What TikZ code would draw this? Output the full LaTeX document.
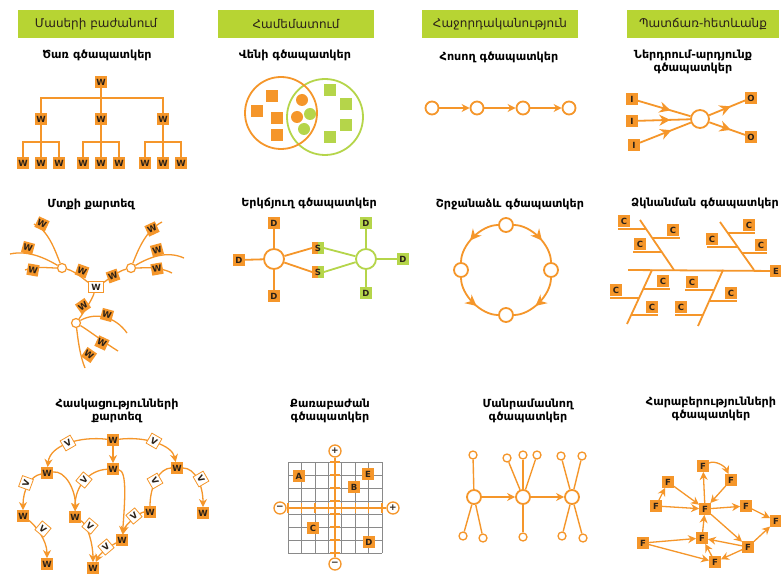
\documentclass[tikz,border=0pt]{standalone}
\usepackage{fontspec}
\setmainfont{DejaVu Sans}
\usetikzlibrary{arrows.meta,decorations.markings,calc}
\definecolor{org}{HTML}{F5962A}
\definecolor{grn}{HTML}{B7D433}
\definecolor{lgrn}{HTML}{B5D54A}
\definecolor{ink}{HTML}{2B2118}
\definecolor{gridc}{HTML}{8A8A8A}
\begin{document}
\begin{tikzpicture}[x=1pt,y=-1pt,
 hdr/.style={fill=grn, minimum width=156pt, minimum height=28pt, inner sep=0pt, text=ink, font=\fontsize{12}{13}\selectfont},
 sub/.style={font=\bfseries\fontsize{11.2}{12.8}\selectfont, align=center, inner sep=0pt},
 lb/.style={fill=org, text=ink, minimum size=11.5pt, inner sep=0pt, font=\bfseries\fontsize{8.5}{8.5}\selectfont},
 lbg/.style={lb, fill=lgrn},
 sbox/.style={lb, path picture={\fill[lgrn] (path picture bounding box.north) rectangle (path picture bounding box.south east);}},
 vb/.style={draw=org, fill=white, text=ink, minimum size=11.5pt, inner sep=0pt, line width=0.8pt, font=\bfseries\fontsize{8.5}{8.5}\selectfont},
 ol/.style={color=org, line width=1.8pt},
 tl/.style={color=org, line width=1.3pt},
 gl/.style={color=lgrn, line width=1.8pt},
 oc/.style={circle, draw=org, fill=white, line width=1.8pt, inner sep=0pt, minimum size=#1},
 oc/.default=13pt,
 dot/.style={circle, fill=#1, inner sep=0pt, minimum size=12pt},
 arr/.style={-{Stealth[length=8pt,width=8pt]}},
 midarr/.style={postaction={decorate,decoration={markings,mark=at position #1 with {\arrow{Stealth[length=11pt,width=11pt]}}}}},
]
\fill[white] (0,0) rectangle (781,585);
\useasboundingbox (0,0) rectangle (781,585);

% ---------- headers ----------
\node[hdr] (h1) at (96,24) {Մասերի բաժանում};
\node[hdr] (h2) at (296,24) {Համեմատում};
\node[hdr] (h3) at (500,24) {Հաջորդականություն};
\node[hdr, minimum width=152pt] (h4) at (703,24) {Պատճառ-հետևանք};

% ---------- subtitles ----------
\node[sub] (s1) at (97,55) {Ծառ գծապատկեր};
\node[sub] (s2) at (295,55) {Վենի գծապատկեր};
\node[sub] (s3) at (499,57) {Հոսող գծապատկեր};
\node[sub] (s4) at (693,62) {Ներդրում-արդյունք\\գծապատկեր};
\node[sub] (s5) at (91,204) {Մտքի քարտեզ};
\node[sub] (s6) at (309,203) {Երկճյուղ գծապատկեր};
\node[sub] (s7) at (510,204) {Շրջանաձև գծապատկեր};
\node[sub] (s8) at (705,203) {Ձկնանման գծապատկեր};
\node[sub] (s9) at (117,411) {Հասկացությունների\\քարտեզ};
\node[sub] (s10) at (330,411) {Քառաբաժան\\գծապատկեր};
\node[sub] (s11) at (528,411) {Մանրամասնող\\գծապատկեր};
\node[sub] (s12) at (711,409) {Հարաբերությունների\\գծապատկեր};

% ---------- tree ----------
\node[lb] (t0) at (101,82) {W};
\node[lb] (t1) at (41,119) {W};
\node[lb] (t2) at (101,119) {W};
\node[lb] (t3) at (163,119) {W};
\foreach \p/\x in {1/41,2/101,3/163}{
  \node[lb] (l\p a) at (\x-18,163) {W};
  \node[lb] (l\p b) at (\x,163) {W};
  \node[lb] (l\p c) at (\x+18,163) {W};
}
\coordinate (tb) at (101,98);
\draw[ol] (t0) -- (tb);
\draw[ol] (t1) |- (tb) -| (t3);
\draw[ol] (t2) -- (tb);
\foreach \p/\x in {1/41,2/101,3/163}{
  \coordinate (lb\p) at (\x,142);
  \draw[ol] (l\p a) |- (lb\p) -| (l\p c);
  \draw[ol] (t\p) -- (l\p b);
}

% ---------- venn ----------
\node[circle, draw=lgrn, line width=1.8pt, minimum size=76pt] (vg) at (325,117) {};
\node[circle, draw=org, line width=1.8pt, minimum size=72pt] (vo) at (281,113) {};
\node[lb, minimum size=12pt] (vs1) at (272,96) {};
\node[lb, minimum size=12pt] (vs2) at (257,111) {};
\node[lb, minimum size=12pt] (vs3) at (277,118) {};
\node[lb, minimum size=12pt] (vs4) at (277,135) {};
\node[dot=org] (vc1) at (302,100) {};
\node[dot=org] (vc2) at (297,117) {};
\node[dot=lgrn] (vc3) at (310,114) {};
\node[dot=lgrn] (vc4) at (304,129) {};
\node[lbg, minimum size=12pt] (vg1) at (330,90) {};
\node[lbg, minimum size=12pt] (vg2) at (346,104) {};
\node[lbg, minimum size=12pt] (vg3) at (346,125) {};
\node[lbg, minimum size=12pt] (vg4) at (330,137) {};

% ---------- flow ----------
\node[oc] (f1) at (432,108) {};
\node[oc] (f2) at (477,108) {};
\node[oc] (f3) at (523,108) {};
\node[oc] (f4) at (569,108) {};
\draw[ol,arr] (f1) -- (f2);
\draw[ol,arr] (f2) -- (f3);
\draw[ol,arr] (f3) -- (f4);

% ---------- input-output ----------
\node[lb] (i1) at (632,99) {I};
\node[lb] (i2) at (632,121) {I};
\node[lb] (i3) at (634,145) {I};
\node[oc=18pt] (ioc) at (700,119) {};
\node[lb] (o1) at (751,98) {O};
\node[lb] (o2) at (751,137) {O};
\draw[ol,midarr=0.62] (i1) -- (ioc);
\draw[ol,midarr=0.62] (i2) -- (ioc);
\draw[ol,midarr=0.62] (i3) -- (ioc);
\draw[ol,midarr=0.6] (ioc) -- (o1);
\draw[ol,midarr=0.6] (ioc) -- (o2);

% ---------- mind map ----------
\node[vb, minimum width=15pt] (mc) at (96,287) {W};
\node[oc=9pt, line width=1.2pt] (mL) at (62,268) {};
\node[oc=9pt, line width=1.2pt] (mR) at (131,268) {};
\node[oc=9pt, line width=1.2pt] (mB) at (76,323) {};
\coordinate (mL1) at (34,224);
\coordinate (mL2) at (10,254);
\coordinate (mL3) at (25,270);
\coordinate (mR1) at (162,222);
\coordinate (mR2) at (184,258);
\coordinate (mR3) at (172,273);
\coordinate (mB1) at (127,333);
\coordinate (mB2) at (118,351);
\coordinate (mB3) at (85,368);
\draw[tl] (mc) .. controls (86,281) and (75,271) .. (mL);
\draw[tl] (mc) .. controls (106,281) and (118,271) .. (mR);
\draw[tl] (mc) .. controls (92,300) and (84,312) .. (mB);
\draw[tl] (mL) .. controls (55,250) and (48,230) .. (mL1);
\draw[tl] (mL) .. controls (45,258) and (28,250) .. (mL2);
\draw[tl] (mL) .. controls (48,268) and (36,266) .. (mL3);
\draw[tl] (mR) .. controls (138,250) and (146,230) .. (mR1);
\draw[tl] (mR) .. controls (148,258) and (166,250) .. (mR2);
\draw[tl] (mR) .. controls (145,268) and (158,266) .. (mR3);
\draw[tl] (mB) .. controls (95,312) and (115,316) .. (mB1);
\draw[tl] (mB) .. controls (88,330) and (105,343) .. (mB2);
\draw[tl] (mB) .. controls (78,340) and (80,356) .. (mB3);
\node[lb, rotate=-20] (mw1) at (82,271) {W};
\node[lb, rotate=20] (mw2) at (113,276) {W};
\node[lb, rotate=35] (mw3) at (83,306) {W};
\node[lb, rotate=-25] (mw4) at (42,224) {W};
\node[lb, rotate=-15] (mw5) at (28,248) {W};
\node[lb, rotate=-10] (mw6) at (33,270) {W};
\node[lb, rotate=25] (mw7) at (152,229) {W};
\node[lb, rotate=15] (mw8) at (157,250) {W};
\node[lb, rotate=10] (mw9) at (157,269) {W};
\node[lb, rotate=-15] (mw10) at (107,315) {W};
\node[lb, rotate=-25] (mw11) at (102,343) {W};
\node[lb, rotate=-35] (mw12) at (89,355) {W};

% ---------- double bubble ----------
\node[oc=20pt] (dbo) at (274,259) {};
\node[circle, draw=lgrn, fill=white, line width=1.8pt, inner sep=0pt, minimum size=20pt] (dbg) at (366,259) {};
\node[lb] (do1) at (274,223) {D};
\node[lb] (do2) at (239,260) {D};
\node[lb] (do3) at (274,296) {D};
\node[sbox] (ds1) at (318,248) {S};
\node[sbox] (ds2) at (318,272) {S};
\node[lbg] (dg1) at (366,223) {D};
\node[lbg] (dg2) at (366,293) {D};
\node[lbg] (dg3) at (403,259) {D};
\draw[ol] (dbo) -- (do1);
\draw[ol] (dbo) -- (do2);
\draw[ol] (dbo) -- (do3);
\draw[ol] (dbo) -- (ds1.west);
\draw[ol] (dbo) -- (ds2.west);
\draw[gl] (ds1.east) -- (dbg);
\draw[gl] (ds2.east) -- (dbg);
\draw[gl] (dbg) -- (dg1);
\draw[gl] (dbg) -- (dg2);
\draw[gl] (dbg) -- (dg3);

% ---------- circle map ----------
\node[oc=14pt] (ct) at (506,225) {};
\node[oc=14pt] (cr) at (551,270) {};
\node[oc=14pt] (cb) at (506,315) {};
\node[oc=14pt] (cl) at (461,270) {};
\draw[ol,midarr=0.58] (ct) .. controls (481,225) and (461,245) .. (cl);
\draw[ol,midarr=0.58] (ct) .. controls (531,225) and (551,245) .. (cr);
\draw[ol,midarr=0.58] (cr) .. controls (551,295) and (531,315) .. (cb);
\draw[ol,midarr=0.58] (cl) .. controls (461,295) and (481,315) .. (cb);

% ---------- fishbone ----------
\node[lb] (fe) at (776,271) {E};
\coordinate (fs) at (628,270);
\draw[ol] (fs) -- (fe);
\draw[ol] (640,220) -- (674,270);
\draw[ol] (720,222) -- (754,270);
\draw[ol] (652,270) -- (627,324);
\draw[ol] (723,270) -- (698,326);
\draw[ol] (618,229) -- (646,229);
\draw[ol] (652,238) -- (680,238);
\draw[ol] (633,252) -- (662,252);
\draw[ol] (728,233) -- (755,233);
\draw[ol] (707,247) -- (738,247);
\draw[ol] (742,253) -- (767,253);
\draw[ol] (643,289) -- (670,289);
\draw[ol] (610,298) -- (639,298);
\draw[ol] (631,315) -- (658,315);
\draw[ol] (685,290) -- (714,290);
\draw[ol] (709,301) -- (737,301);
\draw[ol] (675,315) -- (703,315);
\node[lb] (fc1) at (624,221) {C};
\node[lb] (fc2) at (673,230) {C};
\node[lb] (fc3) at (640,244) {C};
\node[lb] (fc4) at (749,225) {C};
\node[lb] (fc5) at (712,239) {C};
\node[lb] (fc6) at (761,245) {C};
\node[lb] (fc7) at (663,281) {C};
\node[lb] (fc8) at (616,290) {C};
\node[lb] (fc9) at (652,307) {C};
\node[lb] (fc10) at (692,282) {C};
\node[lb] (fc11) at (731,293) {C};
\node[lb] (fc12) at (681,307) {C};

% ---------- concept map ----------
\node[lb] (k0) at (113,440) {W};
\node[lb] (k1) at (47,473) {W};
\node[lb] (k2) at (113,469) {W};
\node[lb] (k3) at (177,468) {W};
\node[lb] (k4) at (23,516) {W};
\node[lb] (k5) at (75,517) {W};
\node[lb] (k6) at (150,512) {W};
\node[lb] (k7) at (122,540) {W};
\node[lb] (k8) at (47,564) {W};
\node[lb] (k9) at (93,568) {W};
\node[lb] (k10) at (203,513) {W};
\draw[tl,arr] (k0) .. controls (80,436) and (50,445) .. (k1);
\draw[tl,arr] (k0) -- (k2);
\draw[tl,arr] (k0) .. controls (145,436) and (172,445) .. (k3);
\draw[tl,arr] (k1) .. controls (30,476) and (23,490) .. (k4);
\draw[tl,arr] (k1) .. controls (65,470) and (76,490) .. (k5);
\draw[tl,arr] (k2) .. controls (90,470) and (75,485) .. (k5);
\draw[tl,arr] (k2) .. controls (127,471) and (125,500) .. (k7);
\draw[tl,arr] (k6) .. controls (140,512) and (125,525) .. (k7);
\draw[tl] (k3) .. controls (160,468) and (150,485) .. (k6);
\draw[tl,arr] (k3) .. controls (195,468) and (203,485) .. (k10);
\draw[tl,arr] (k4) .. controls (35,525) and (47,540) .. (k8);
\draw[tl,arr] (k5) .. controls (88,525) and (93,545) .. (k9);
\draw[tl,arr] (k7) .. controls (112,545) and (100,553) .. (k9);
\node[vb, rotate=30] (v1) at (68,443) {V};
\node[vb, rotate=-30] (v2) at (154,441) {V};
\node[vb, rotate=70] (v3) at (26,483) {V};
\node[vb, rotate=50] (v4) at (84,480) {V};
\node[vb, rotate=-60] (v5) at (155,481) {V};
\node[vb, rotate=-40] (v6) at (43,529) {V};
\node[vb, rotate=-40] (v7) at (90,526) {V};
\node[vb, rotate=40] (v8) at (134,516) {V};
\node[vb, rotate=40] (v9) at (106,547) {V};
\node[vb, rotate=-60] (v10) at (201,479) {V};

% ---------- quadrant ----------
\foreach \i in {0,...,7}{
  \draw[gridc, line width=0.6pt] ({288+13.43*\i},462) -- ({288+13.43*\i},553);
  \draw[gridc, line width=0.6pt] (288,{462+13*\i}) -- (382,{462+13*\i});
}
\node[oc=12pt, line width=1.3pt, text=ink, font=\bfseries\fontsize{9}{9}\selectfont] (qt) at (335,451) {+};
\node[oc=12pt, line width=1.3pt, text=ink, font=\bfseries\fontsize{9}{9}\selectfont] (qb) at (335,564) {−};
\node[oc=12pt, line width=1.3pt, text=ink, font=\bfseries\fontsize{9}{9}\selectfont] (ql) at (280,508) {−};
\node[oc=12pt, line width=1.3pt, text=ink, font=\bfseries\fontsize{9}{9}\selectfont] (qr) at (393,508) {+};
\draw[ol, line width=2.6pt] (qt) -- (qb);
\draw[ol, line width=2.6pt] (ql) -- (qr);
\foreach \i in {0,...,7}{
  \draw[ol, line width=1.3pt] ({288+13.43*\i},503) -- ({288+13.43*\i},513);
  \draw[ol, line width=1.3pt] (330,{462+13*\i}) -- (340,{462+13*\i});
}
\node[lb] (qa) at (299,476) {A};
\node[lb] (qe) at (368,474) {E};
\node[lb] (qbb) at (354,487) {B};
\node[lb] (qc) at (313,528) {C};
\node[lb] (qd) at (369,542) {D};

% ---------- detail ----------
\node[oc=14pt] (d1) at (474,497) {};
\node[oc=14pt] (d2) at (523,497) {};
\node[oc=14pt] (d3) at (572,497) {};
\draw[ol,arr] (d1) -- (d2);
\draw[ol,arr] (d2) -- (d3);
\foreach \n/\x/\y/\p in {a/473/455/d1, b/463/536/d1, c/483/538/d1,
  d/507/458/d2, e/523/455/d2, f/537/455/d2, g/523/537/d2,
  h/561/456/d3, i/582/456/d3, j/562/536/d3, k/583/538/d3}{
  \node[oc=8pt, line width=1.3pt] (ds\n) at (\x,\y) {};
  \draw[ol, line width=1.4pt] (\p) -- (ds\n);
}

% ---------- relations ----------
\node[lb] (r1) at (703,466) {F};
\node[lb] (r2) at (731,480) {F};
\node[lb] (r3) at (668,482) {F};
\node[lb] (r4) at (656,506) {F};
\node[lb] (r5) at (705,509) {F};
\node[lb] (r6) at (746,506) {F};
\node[lb] (r7) at (776,521) {F};
\node[lb] (r8) at (702,538) {F};
\node[lb] (r9) at (643,543) {F};
\node[lb] (r10) at (748,547) {F};
\node[lb] (r11) at (715,562) {F};
\draw[tl,arr] (r5) -- (r1);
\draw[tl,arr] (r1) .. controls (715,460) and (725,466) .. (r2);
\draw[tl,arr] (r2) -- (r5);
\draw[tl,arr] (r3) -- (r5);
\draw[tl,arr] (r4) -- (r3);
\draw[tl,arr] (r4) -- (r5);
\draw[tl,arr] (r5) -- (r6);
\draw[tl,arr] (r6) -- (r7);
\draw[tl,arr] (r10) -- (r7);
\draw[tl,arr] (r8) -- (r5);
\draw[tl,arr] (r5) -- (r10);
\draw[tl,arr] (r10) -- (r8);
\draw[tl,arr] (r10) -- (r11);
\draw[tl,arr] (r9) -- (r8);
\draw[tl,arr] (r9) -- (r11);
\draw[tl,arr] (r11) -- (r8);
\end{tikzpicture}
\end{document}
